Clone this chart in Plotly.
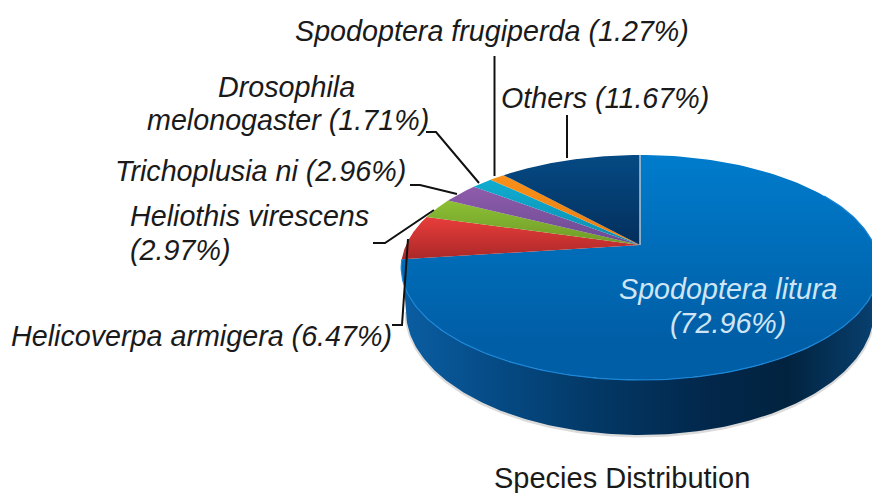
import numpy as np
import plotly.graph_objects as go

# ---- data ----
species = ["Spodoptera litura", "Helicoverpa armigera", "Heliothis virescens",
           "Trichoplusia ni", "Drosophila melonogaster", "Spodoptera frugiperda", "Others"]
shares = [72.96, 6.47, 2.97, 2.96, 1.71, 1.27, 11.67]
top_colors = ["#007ccc", "#e83d3b", "#8cc034", "#8f5cab", "#10acd0", "#f9901a", "#054a84"]
low_colors = ["#005ea6", "#ab2828", "#6f9a28", "#6a4a92", "#0b8eb0", "#e87d10", "#032f5c"]
title_text = "Species Distribution"

# ---- perspective disc geometry ----
CX, CY, A, B, K = 640.0, 245.0, 108.0, 234.0, 0.2
BX, BY, BRX, BRY = 640.0, 311.0, 234.0, 124.0


def rim(deg):
    r = np.radians(deg)
    u, v = np.sin(r), np.cos(r)
    d = 1 + K * v
    return CX + B * u / d, CY - A * v / d


fig = go.Figure()
bounds = np.cumsum([0] + shares) / sum(shares) * 360

# side wall of the largest slice
a_side = np.linspace(60, bounds[1], 160)
tx, ty = rim(a_side)
t = np.radians(np.linspace(180, -10, 200))
bx, by = BX + BRX * np.cos(t), BY + BRY * np.sin(t)

# soft shadow below the wall
fig.add_trace(go.Scatter(x=bx, y=by + 1, mode="lines", hoverinfo="skip",
                         line=dict(color="rgba(90,90,90,0.22)", width=3)))
fig.add_trace(go.Scatter(
    x=np.concatenate([tx, bx]), y=np.concatenate([ty, by]), mode="lines", fill="toself",
    line=dict(width=0), hoverinfo="skip",
    fillgradient=dict(type="horizontal", start=406, stop=872, colorscale=[
        [0, "#0a5da1"], [0.2, "#054a84"], [0.42, "#033764"],
        [0.65, "#02274b"], [0.82, "#01233f"], [1, "#083f6e"]])))

# top faces
for i, name in enumerate(species):
    a = np.linspace(bounds[i], bounds[i + 1], 160)
    x, y = rim(a)
    px = np.concatenate([[CX], x, [CX]])
    py = np.concatenate([[CY], y, [CY]])
    grad = dict(type="vertical", start=float(py.min()), stop=float(py.max()),
                colorscale=[[0, top_colors[i]], [1, low_colors[i]]])
    if i == 0:
        grad.update(start=155, stop=340)
    fig.add_trace(go.Scatter(x=px, y=py, mode="lines", fill="toself", name=name,
                             line=dict(width=0), fillgradient=grad, hoverinfo="skip"))

# pale highlight on the front rim and on the start radius
fig.add_trace(go.Scatter(x=tx, y=ty, mode="lines", hoverinfo="skip",
                         line=dict(color="#1a86d8", width=1.2)))
x0, y0 = rim(0.0)
fig.add_trace(go.Scatter(x=[CX, x0], y=[CY, y0], mode="lines", hoverinfo="skip",
                         line=dict(color="#b9c4cc", width=1.5)))

# leader lines
leaders = [
    ([494.5, 494.5], [56, 176]),
    ([567, 567], [115, 158]),
    ([426, 436, 479], [132, 132, 183]),
    ([410, 420, 457], [185, 185, 194]),
    ([373, 385, 434], [243, 243, 210]),
    ([392, 402, 408], [325, 325, 239]),
]
for lx, ly in leaders:
    fig.add_trace(go.Scatter(x=lx, y=ly, mode="lines", hoverinfo="skip",
                             line=dict(color="#111111", width=2)))

FONT = "Liberation Sans, Arial, sans-serif"
labels = [
    ("<i>Spodoptera frugiperda (1.27%)</i>", 293.5, 31, "left", "#1a1a1a"),
    ("<i>Others (11.67%)</i>", 499.5, 98, "left", "#1a1a1a"),
    ("<i>Drosophila</i>", 217, 87, "left", "#1a1a1a"),
    ("<i>melonogaster (1.71%)</i>", 146, 120, "left", "#1a1a1a"),
    ("<i>Trichoplusia ni (2.96%)</i>", 113.5, 171, "left", "#1a1a1a"),
    ("<i>Heliothis virescens</i>", 128.5, 216, "left", "#1a1a1a"),
    ("<i>(2.97%)</i>", 128.5, 250, "left", "#1a1a1a"),
    ("<i>Helicoverpa armigera (6.47%)</i>", 10, 336, "left", "#1a1a1a"),
    ("<i>Spodoptera litura</i>", 728, 289, "center", "#cfe5f4"),
    ("<i>(72.96%)</i>", 728, 323, "center", "#cfe5f4"),
]
annotations = [dict(text=s, x=x, y=y, xref="x", yref="y", xanchor=anc, yanchor="middle",
                    showarrow=False, borderpad=0, font=dict(family=FONT, size=28.7, color=c))
               for s, x, y, anc, c in labels]
annotations.append(dict(text=title_text, x=622, y=478, xref="x", yref="y", showarrow=False,
                        xanchor="center", yanchor="middle", borderpad=0,
                        font=dict(family=FONT, size=29, color="#1a1a1a")))

fig.update_layout(
    width=872, height=493, margin=dict(l=0, r=0, t=0, b=0), showlegend=False,
    paper_bgcolor="white", plot_bgcolor="white", annotations=annotations,
    xaxis=dict(range=[0, 872], visible=False, fixedrange=True),
    yaxis=dict(range=[493, 0], visible=False, fixedrange=True),
)
fig.write_html("out.html", config=dict(displayModeBar=False),
               post_script="document.body.style.margin='0';document.documentElement.style.overflow='hidden';")
